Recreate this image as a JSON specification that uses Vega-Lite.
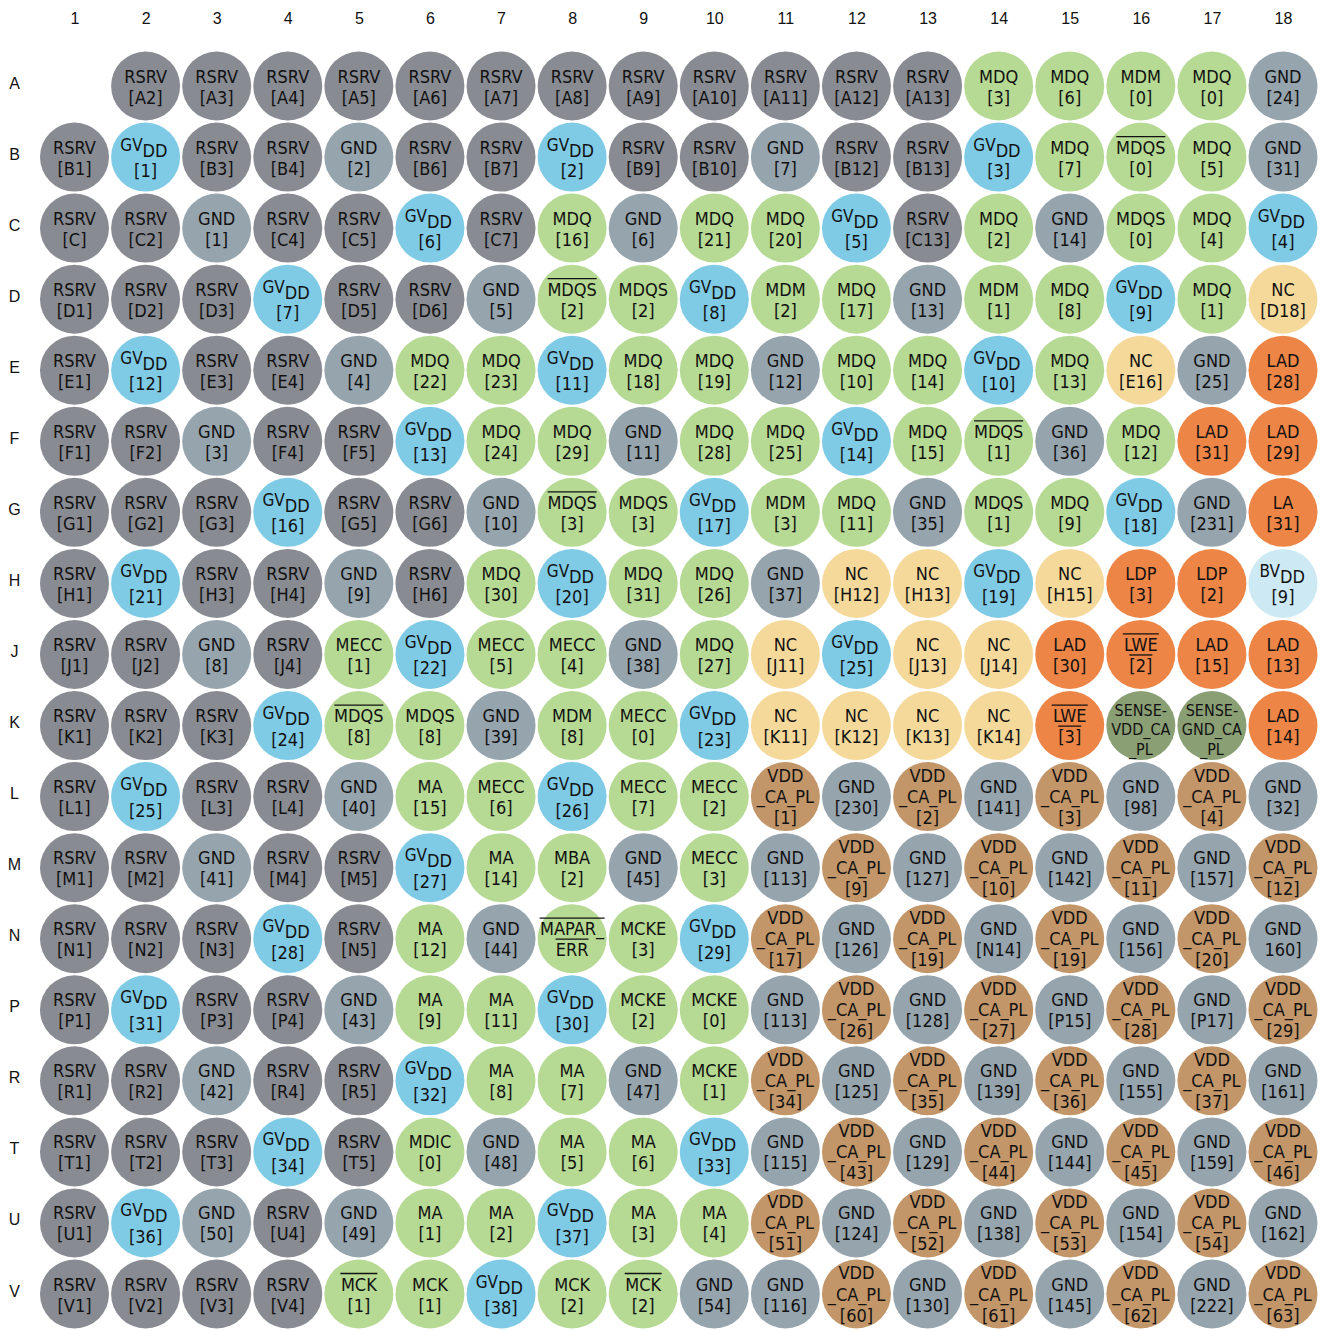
{
"$schema":"https://vega.github.io/schema/vega-lite/v6.json",
"width":1285,"height":1291,
"autosize":{"type":"none"},
"padding":{"left":40,"top":40,"right":0,"bottom":0},
"background":"white",
"config":{"view":{"stroke":null},"text":{"font":"DejaVu Sans Condensed","fontSize":18,"color":"#111111","baseline":"alphabetic","align":"center"},"tick":{"color":"#111111","opacity":1,"thickness":1.3,"orient":"horizontal"}},
"data":{"values":[
{"r":"A","c":2,"t":"R","a":"RSRV","b":"[A2]"},{"r":"A","c":3,"t":"R","a":"RSRV","b":"[A3]"},{"r":"A","c":4,"t":"R","a":"RSRV","b":"[A4]"},{"r":"A","c":5,"t":"R","a":"RSRV","b":"[A5]"},{"r":"A","c":6,"t":"R","a":"RSRV","b":"[A6]"},{"r":"A","c":7,"t":"R","a":"RSRV","b":"[A7]"},{"r":"A","c":8,"t":"R","a":"RSRV","b":"[A8]"},{"r":"A","c":9,"t":"R","a":"RSRV","b":"[A9]"},{"r":"A","c":10,"t":"R","a":"RSRV","b":"[A10]"},{"r":"A","c":11,"t":"R","a":"RSRV","b":"[A11]"},{"r":"A","c":12,"t":"R","a":"RSRV","b":"[A12]"},{"r":"A","c":13,"t":"R","a":"RSRV","b":"[A13]"},{"r":"A","c":14,"t":"M","a":"MDQ","b":"[3]"},{"r":"A","c":15,"t":"M","a":"MDQ","b":"[6]"},{"r":"A","c":16,"t":"M","a":"MDM","b":"[0]"},{"r":"A","c":17,"t":"M","a":"MDQ","b":"[0]"},{"r":"A","c":18,"t":"G","a":"GND","b":"[24]"},
{"r":"B","c":1,"t":"R","a":"RSRV","b":"[B1]"},{"r":"B","c":2,"t":"V","a":"GV","s":"DD","b":"[1]"},{"r":"B","c":3,"t":"R","a":"RSRV","b":"[B3]"},{"r":"B","c":4,"t":"R","a":"RSRV","b":"[B4]"},{"r":"B","c":5,"t":"G","a":"GND","b":"[2]"},{"r":"B","c":6,"t":"R","a":"RSRV","b":"[B6]"},{"r":"B","c":7,"t":"R","a":"RSRV","b":"[B7]"},{"r":"B","c":8,"t":"V","a":"GV","s":"DD","b":"[2]"},{"r":"B","c":9,"t":"R","a":"RSRV","b":"[B9]"},{"r":"B","c":10,"t":"R","a":"RSRV","b":"[B10]"},{"r":"B","c":11,"t":"G","a":"GND","b":"[7]"},{"r":"B","c":12,"t":"R","a":"RSRV","b":"[B12]"},{"r":"B","c":13,"t":"R","a":"RSRV","b":"[B13]"},{"r":"B","c":14,"t":"V","a":"GV","s":"DD","b":"[3]"},{"r":"B","c":15,"t":"M","a":"MDQ","b":"[7]"},{"r":"B","c":16,"t":"M","a":"MDQS","b":"[0]","ov":1},{"r":"B","c":17,"t":"M","a":"MDQ","b":"[5]"},{"r":"B","c":18,"t":"G","a":"GND","b":"[31]"},
{"r":"C","c":1,"t":"R","a":"RSRV","b":"[C]"},{"r":"C","c":2,"t":"R","a":"RSRV","b":"[C2]"},{"r":"C","c":3,"t":"G","a":"GND","b":"[1]"},{"r":"C","c":4,"t":"R","a":"RSRV","b":"[C4]"},{"r":"C","c":5,"t":"R","a":"RSRV","b":"[C5]"},{"r":"C","c":6,"t":"V","a":"GV","s":"DD","b":"[6]"},{"r":"C","c":7,"t":"R","a":"RSRV","b":"[C7]"},{"r":"C","c":8,"t":"M","a":"MDQ","b":"[16]"},{"r":"C","c":9,"t":"G","a":"GND","b":"[6]"},{"r":"C","c":10,"t":"M","a":"MDQ","b":"[21]"},{"r":"C","c":11,"t":"M","a":"MDQ","b":"[20]"},{"r":"C","c":12,"t":"V","a":"GV","s":"DD","b":"[5]"},{"r":"C","c":13,"t":"R","a":"RSRV","b":"[C13]"},{"r":"C","c":14,"t":"M","a":"MDQ","b":"[2]"},{"r":"C","c":15,"t":"G","a":"GND","b":"[14]"},{"r":"C","c":16,"t":"M","a":"MDQS","b":"[0]"},{"r":"C","c":17,"t":"M","a":"MDQ","b":"[4]"},{"r":"C","c":18,"t":"V","a":"GV","s":"DD","b":"[4]"},
{"r":"D","c":1,"t":"R","a":"RSRV","b":"[D1]"},{"r":"D","c":2,"t":"R","a":"RSRV","b":"[D2]"},{"r":"D","c":3,"t":"R","a":"RSRV","b":"[D3]"},{"r":"D","c":4,"t":"V","a":"GV","s":"DD","b":"[7]"},{"r":"D","c":5,"t":"R","a":"RSRV","b":"[D5]"},{"r":"D","c":6,"t":"R","a":"RSRV","b":"[D6]"},{"r":"D","c":7,"t":"G","a":"GND","b":"[5]"},{"r":"D","c":8,"t":"M","a":"MDQS","b":"[2]","ov":1},{"r":"D","c":9,"t":"M","a":"MDQS","b":"[2]"},{"r":"D","c":10,"t":"V","a":"GV","s":"DD","b":"[8]"},{"r":"D","c":11,"t":"M","a":"MDM","b":"[2]"},{"r":"D","c":12,"t":"M","a":"MDQ","b":"[17]"},{"r":"D","c":13,"t":"G","a":"GND","b":"[13]"},{"r":"D","c":14,"t":"M","a":"MDM","b":"[1]"},{"r":"D","c":15,"t":"M","a":"MDQ","b":"[8]"},{"r":"D","c":16,"t":"V","a":"GV","s":"DD","b":"[9]"},{"r":"D","c":17,"t":"M","a":"MDQ","b":"[1]"},{"r":"D","c":18,"t":"N","a":"NC","b":"[D18]"},
{"r":"E","c":1,"t":"R","a":"RSRV","b":"[E1]"},{"r":"E","c":2,"t":"V","a":"GV","s":"DD","b":"[12]"},{"r":"E","c":3,"t":"R","a":"RSRV","b":"[E3]"},{"r":"E","c":4,"t":"R","a":"RSRV","b":"[E4]"},{"r":"E","c":5,"t":"G","a":"GND","b":"[4]"},{"r":"E","c":6,"t":"M","a":"MDQ","b":"[22]"},{"r":"E","c":7,"t":"M","a":"MDQ","b":"[23]"},{"r":"E","c":8,"t":"V","a":"GV","s":"DD","b":"[11]"},{"r":"E","c":9,"t":"M","a":"MDQ","b":"[18]"},{"r":"E","c":10,"t":"M","a":"MDQ","b":"[19]"},{"r":"E","c":11,"t":"G","a":"GND","b":"[12]"},{"r":"E","c":12,"t":"M","a":"MDQ","b":"[10]"},{"r":"E","c":13,"t":"M","a":"MDQ","b":"[14]"},{"r":"E","c":14,"t":"V","a":"GV","s":"DD","b":"[10]"},{"r":"E","c":15,"t":"M","a":"MDQ","b":"[13]"},{"r":"E","c":16,"t":"N","a":"NC","b":"[E16]"},{"r":"E","c":17,"t":"G","a":"GND","b":"[25]"},{"r":"E","c":18,"t":"L","a":"LAD","b":"[28]"},
{"r":"F","c":1,"t":"R","a":"RSRV","b":"[F1]"},{"r":"F","c":2,"t":"R","a":"RSRV","b":"[F2]"},{"r":"F","c":3,"t":"G","a":"GND","b":"[3]"},{"r":"F","c":4,"t":"R","a":"RSRV","b":"[F4]"},{"r":"F","c":5,"t":"R","a":"RSRV","b":"[F5]"},{"r":"F","c":6,"t":"V","a":"GV","s":"DD","b":"[13]"},{"r":"F","c":7,"t":"M","a":"MDQ","b":"[24]"},{"r":"F","c":8,"t":"M","a":"MDQ","b":"[29]"},{"r":"F","c":9,"t":"G","a":"GND","b":"[11]"},{"r":"F","c":10,"t":"M","a":"MDQ","b":"[28]"},{"r":"F","c":11,"t":"M","a":"MDQ","b":"[25]"},{"r":"F","c":12,"t":"V","a":"GV","s":"DD","b":"[14]"},{"r":"F","c":13,"t":"M","a":"MDQ","b":"[15]"},{"r":"F","c":14,"t":"M","a":"MDQS","b":"[1]","ov":1},{"r":"F","c":15,"t":"G","a":"GND","b":"[36]"},{"r":"F","c":16,"t":"M","a":"MDQ","b":"[12]"},{"r":"F","c":17,"t":"L","a":"LAD","b":"[31]"},{"r":"F","c":18,"t":"L","a":"LAD","b":"[29]"},
{"r":"G","c":1,"t":"R","a":"RSRV","b":"[G1]"},{"r":"G","c":2,"t":"R","a":"RSRV","b":"[G2]"},{"r":"G","c":3,"t":"R","a":"RSRV","b":"[G3]"},{"r":"G","c":4,"t":"V","a":"GV","s":"DD","b":"[16]"},{"r":"G","c":5,"t":"R","a":"RSRV","b":"[G5]"},{"r":"G","c":6,"t":"R","a":"RSRV","b":"[G6]"},{"r":"G","c":7,"t":"G","a":"GND","b":"[10]"},{"r":"G","c":8,"t":"M","a":"MDQS","b":"[3]","ov":1},{"r":"G","c":9,"t":"M","a":"MDQS","b":"[3]"},{"r":"G","c":10,"t":"V","a":"GV","s":"DD","b":"[17]"},{"r":"G","c":11,"t":"M","a":"MDM","b":"[3]"},{"r":"G","c":12,"t":"M","a":"MDQ","b":"[11]"},{"r":"G","c":13,"t":"G","a":"GND","b":"[35]"},{"r":"G","c":14,"t":"M","a":"MDQS","b":"[1]"},{"r":"G","c":15,"t":"M","a":"MDQ","b":"[9]"},{"r":"G","c":16,"t":"V","a":"GV","s":"DD","b":"[18]"},{"r":"G","c":17,"t":"G","a":"GND","b":"[231]"},{"r":"G","c":18,"t":"L","a":"LA","b":"[31]"},
{"r":"H","c":1,"t":"R","a":"RSRV","b":"[H1]"},{"r":"H","c":2,"t":"V","a":"GV","s":"DD","b":"[21]"},{"r":"H","c":3,"t":"R","a":"RSRV","b":"[H3]"},{"r":"H","c":4,"t":"R","a":"RSRV","b":"[H4]"},{"r":"H","c":5,"t":"G","a":"GND","b":"[9]"},{"r":"H","c":6,"t":"R","a":"RSRV","b":"[H6]"},{"r":"H","c":7,"t":"M","a":"MDQ","b":"[30]"},{"r":"H","c":8,"t":"V","a":"GV","s":"DD","b":"[20]"},{"r":"H","c":9,"t":"M","a":"MDQ","b":"[31]"},{"r":"H","c":10,"t":"M","a":"MDQ","b":"[26]"},{"r":"H","c":11,"t":"G","a":"GND","b":"[37]"},{"r":"H","c":12,"t":"N","a":"NC","b":"[H12]"},{"r":"H","c":13,"t":"N","a":"NC","b":"[H13]"},{"r":"H","c":14,"t":"V","a":"GV","s":"DD","b":"[19]"},{"r":"H","c":15,"t":"N","a":"NC","b":"[H15]"},{"r":"H","c":16,"t":"L","a":"LDP","b":"[3]"},{"r":"H","c":17,"t":"L","a":"LDP","b":"[2]"},{"r":"H","c":18,"t":"B","a":"BV","s":"DD","b":"[9]"},
{"r":"J","c":1,"t":"R","a":"RSRV","b":"[J1]"},{"r":"J","c":2,"t":"R","a":"RSRV","b":"[J2]"},{"r":"J","c":3,"t":"G","a":"GND","b":"[8]"},{"r":"J","c":4,"t":"R","a":"RSRV","b":"[J4]"},{"r":"J","c":5,"t":"M","a":"MECC","b":"[1]"},{"r":"J","c":6,"t":"V","a":"GV","s":"DD","b":"[22]"},{"r":"J","c":7,"t":"M","a":"MECC","b":"[5]"},{"r":"J","c":8,"t":"M","a":"MECC","b":"[4]"},{"r":"J","c":9,"t":"G","a":"GND","b":"[38]"},{"r":"J","c":10,"t":"M","a":"MDQ","b":"[27]"},{"r":"J","c":11,"t":"N","a":"NC","b":"[J11]"},{"r":"J","c":12,"t":"V","a":"GV","s":"DD","b":"[25]"},{"r":"J","c":13,"t":"N","a":"NC","b":"[J13]"},{"r":"J","c":14,"t":"N","a":"NC","b":"[J14]"},{"r":"J","c":15,"t":"L","a":"LAD","b":"[30]"},{"r":"J","c":16,"t":"L","a":"LWE","b":"[2]","ov":1},{"r":"J","c":17,"t":"L","a":"LAD","b":"[15]"},{"r":"J","c":18,"t":"L","a":"LAD","b":"[13]"},
{"r":"K","c":1,"t":"R","a":"RSRV","b":"[K1]"},{"r":"K","c":2,"t":"R","a":"RSRV","b":"[K2]"},{"r":"K","c":3,"t":"R","a":"RSRV","b":"[K3]"},{"r":"K","c":4,"t":"V","a":"GV","s":"DD","b":"[24]"},{"r":"K","c":5,"t":"M","a":"MDQS","b":"[8]","ov":1},{"r":"K","c":6,"t":"M","a":"MDQS","b":"[8]"},{"r":"K","c":7,"t":"G","a":"GND","b":"[39]"},{"r":"K","c":8,"t":"M","a":"MDM","b":"[8]"},{"r":"K","c":9,"t":"M","a":"MECC","b":"[0]"},{"r":"K","c":10,"t":"V","a":"GV","s":"DD","b":"[23]"},{"r":"K","c":11,"t":"N","a":"NC","b":"[K11]"},{"r":"K","c":12,"t":"N","a":"NC","b":"[K12]"},{"r":"K","c":13,"t":"N","a":"NC","b":"[K13]"},{"r":"K","c":14,"t":"N","a":"NC","b":"[K14]"},{"r":"K","c":15,"t":"L","a":"LWE","b":"[3]","ov":1},{"r":"K","c":16,"t":"S","a":"SENSE-","b":"VDD_CA","d":"_PL"},{"r":"K","c":17,"t":"S","a":"SENSE-","b":"GND_CA","d":"_PL"},{"r":"K","c":18,"t":"L","a":"LAD","b":"[14]"},
{"r":"L","c":1,"t":"R","a":"RSRV","b":"[L1]"},{"r":"L","c":2,"t":"V","a":"GV","s":"DD","b":"[25]"},{"r":"L","c":3,"t":"R","a":"RSRV","b":"[L3]"},{"r":"L","c":4,"t":"R","a":"RSRV","b":"[L4]"},{"r":"L","c":5,"t":"G","a":"GND","b":"[40]"},{"r":"L","c":6,"t":"M","a":"MA","b":"[15]"},{"r":"L","c":7,"t":"M","a":"MECC","b":"[6]"},{"r":"L","c":8,"t":"V","a":"GV","s":"DD","b":"[26]"},{"r":"L","c":9,"t":"M","a":"MECC","b":"[7]"},{"r":"L","c":10,"t":"M","a":"MECC","b":"[2]"},{"r":"L","c":11,"t":"C","a":"VDD","b":"_CA_PL","d":"[1]"},{"r":"L","c":12,"t":"G","a":"GND","b":"[230]"},{"r":"L","c":13,"t":"C","a":"VDD","b":"_CA_PL","d":"[2]"},{"r":"L","c":14,"t":"G","a":"GND","b":"[141]"},{"r":"L","c":15,"t":"C","a":"VDD","b":"_CA_PL","d":"[3]"},{"r":"L","c":16,"t":"G","a":"GND","b":"[98]"},{"r":"L","c":17,"t":"C","a":"VDD","b":"_CA_PL","d":"[4]"},{"r":"L","c":18,"t":"G","a":"GND","b":"[32]"},
{"r":"M","c":1,"t":"R","a":"RSRV","b":"[M1]"},{"r":"M","c":2,"t":"R","a":"RSRV","b":"[M2]"},{"r":"M","c":3,"t":"G","a":"GND","b":"[41]"},{"r":"M","c":4,"t":"R","a":"RSRV","b":"[M4]"},{"r":"M","c":5,"t":"R","a":"RSRV","b":"[M5]"},{"r":"M","c":6,"t":"V","a":"GV","s":"DD","b":"[27]"},{"r":"M","c":7,"t":"M","a":"MA","b":"[14]"},{"r":"M","c":8,"t":"M","a":"MBA","b":"[2]"},{"r":"M","c":9,"t":"G","a":"GND","b":"[45]"},{"r":"M","c":10,"t":"M","a":"MECC","b":"[3]"},{"r":"M","c":11,"t":"G","a":"GND","b":"[113]"},{"r":"M","c":12,"t":"C","a":"VDD","b":"_CA_PL","d":"[9]"},{"r":"M","c":13,"t":"G","a":"GND","b":"[127]"},{"r":"M","c":14,"t":"C","a":"VDD","b":"_CA_PL","d":"[10]"},{"r":"M","c":15,"t":"G","a":"GND","b":"[142]"},{"r":"M","c":16,"t":"C","a":"VDD","b":"_CA_PL","d":"[11]"},{"r":"M","c":17,"t":"G","a":"GND","b":"[157]"},{"r":"M","c":18,"t":"C","a":"VDD","b":"_CA_PL","d":"[12]"},
{"r":"N","c":1,"t":"R","a":"RSRV","b":"[N1]"},{"r":"N","c":2,"t":"R","a":"RSRV","b":"[N2]"},{"r":"N","c":3,"t":"R","a":"RSRV","b":"[N3]"},{"r":"N","c":4,"t":"V","a":"GV","s":"DD","b":"[28]"},{"r":"N","c":5,"t":"R","a":"RSRV","b":"[N5]"},{"r":"N","c":6,"t":"M","a":"MA","b":"[12]"},{"r":"N","c":7,"t":"G","a":"GND","b":"[44]"},{"r":"N","c":8,"t":"M","a":"MAPAR_","b":"ERR","ov":1},{"r":"N","c":9,"t":"M","a":"MCKE","b":"[3]"},{"r":"N","c":10,"t":"V","a":"GV","s":"DD","b":"[29]"},{"r":"N","c":11,"t":"C","a":"VDD","b":"_CA_PL","d":"[17]"},{"r":"N","c":12,"t":"G","a":"GND","b":"[126]"},{"r":"N","c":13,"t":"C","a":"VDD","b":"_CA_PL","d":"[19]"},{"r":"N","c":14,"t":"G","a":"GND","b":"[N14]"},{"r":"N","c":15,"t":"C","a":"VDD","b":"_CA_PL","d":"[19]"},{"r":"N","c":16,"t":"G","a":"GND","b":"[156]"},{"r":"N","c":17,"t":"C","a":"VDD","b":"_CA_PL","d":"[20]"},{"r":"N","c":18,"t":"G","a":"GND","b":"160]"},
{"r":"P","c":1,"t":"R","a":"RSRV","b":"[P1]"},{"r":"P","c":2,"t":"V","a":"GV","s":"DD","b":"[31]"},{"r":"P","c":3,"t":"R","a":"RSRV","b":"[P3]"},{"r":"P","c":4,"t":"R","a":"RSRV","b":"[P4]"},{"r":"P","c":5,"t":"G","a":"GND","b":"[43]"},{"r":"P","c":6,"t":"M","a":"MA","b":"[9]"},{"r":"P","c":7,"t":"M","a":"MA","b":"[11]"},{"r":"P","c":8,"t":"V","a":"GV","s":"DD","b":"[30]"},{"r":"P","c":9,"t":"M","a":"MCKE","b":"[2]"},{"r":"P","c":10,"t":"M","a":"MCKE","b":"[0]"},{"r":"P","c":11,"t":"G","a":"GND","b":"[113]"},{"r":"P","c":12,"t":"C","a":"VDD","b":"_CA_PL","d":"[26]"},{"r":"P","c":13,"t":"G","a":"GND","b":"[128]"},{"r":"P","c":14,"t":"C","a":"VDD","b":"_CA_PL","d":"[27]"},{"r":"P","c":15,"t":"G","a":"GND","b":"[P15]"},{"r":"P","c":16,"t":"C","a":"VDD","b":"_CA_PL","d":"[28]"},{"r":"P","c":17,"t":"G","a":"GND","b":"[P17]"},{"r":"P","c":18,"t":"C","a":"VDD","b":"_CA_PL","d":"[29]"},
{"r":"R","c":1,"t":"R","a":"RSRV","b":"[R1]"},{"r":"R","c":2,"t":"R","a":"RSRV","b":"[R2]"},{"r":"R","c":3,"t":"G","a":"GND","b":"[42]"},{"r":"R","c":4,"t":"R","a":"RSRV","b":"[R4]"},{"r":"R","c":5,"t":"R","a":"RSRV","b":"[R5]"},{"r":"R","c":6,"t":"V","a":"GV","s":"DD","b":"[32]"},{"r":"R","c":7,"t":"M","a":"MA","b":"[8]"},{"r":"R","c":8,"t":"M","a":"MA","b":"[7]"},{"r":"R","c":9,"t":"G","a":"GND","b":"[47]"},{"r":"R","c":10,"t":"M","a":"MCKE","b":"[1]"},{"r":"R","c":11,"t":"C","a":"VDD","b":"_CA_PL","d":"[34]"},{"r":"R","c":12,"t":"G","a":"GND","b":"[125]"},{"r":"R","c":13,"t":"C","a":"VDD","b":"_CA_PL","d":"[35]"},{"r":"R","c":14,"t":"G","a":"GND","b":"[139]"},{"r":"R","c":15,"t":"C","a":"VDD","b":"_CA_PL","d":"[36]"},{"r":"R","c":16,"t":"G","a":"GND","b":"[155]"},{"r":"R","c":17,"t":"C","a":"VDD","b":"_CA_PL","d":"[37]"},{"r":"R","c":18,"t":"G","a":"GND","b":"[161]"},
{"r":"T","c":1,"t":"R","a":"RSRV","b":"[T1]"},{"r":"T","c":2,"t":"R","a":"RSRV","b":"[T2]"},{"r":"T","c":3,"t":"R","a":"RSRV","b":"[T3]"},{"r":"T","c":4,"t":"V","a":"GV","s":"DD","b":"[34]"},{"r":"T","c":5,"t":"R","a":"RSRV","b":"[T5]"},{"r":"T","c":6,"t":"M","a":"MDIC","b":"[0]"},{"r":"T","c":7,"t":"G","a":"GND","b":"[48]"},{"r":"T","c":8,"t":"M","a":"MA","b":"[5]"},{"r":"T","c":9,"t":"M","a":"MA","b":"[6]"},{"r":"T","c":10,"t":"V","a":"GV","s":"DD","b":"[33]"},{"r":"T","c":11,"t":"G","a":"GND","b":"[115]"},{"r":"T","c":12,"t":"C","a":"VDD","b":"_CA_PL","d":"[43]"},{"r":"T","c":13,"t":"G","a":"GND","b":"[129]"},{"r":"T","c":14,"t":"C","a":"VDD","b":"_CA_PL","d":"[44]"},{"r":"T","c":15,"t":"G","a":"GND","b":"[144]"},{"r":"T","c":16,"t":"C","a":"VDD","b":"_CA_PL","d":"[45]"},{"r":"T","c":17,"t":"G","a":"GND","b":"[159]"},{"r":"T","c":18,"t":"C","a":"VDD","b":"_CA_PL","d":"[46]"},
{"r":"U","c":1,"t":"R","a":"RSRV","b":"[U1]"},{"r":"U","c":2,"t":"V","a":"GV","s":"DD","b":"[36]"},{"r":"U","c":3,"t":"G","a":"GND","b":"[50]"},{"r":"U","c":4,"t":"R","a":"RSRV","b":"[U4]"},{"r":"U","c":5,"t":"G","a":"GND","b":"[49]"},{"r":"U","c":6,"t":"M","a":"MA","b":"[1]"},{"r":"U","c":7,"t":"M","a":"MA","b":"[2]"},{"r":"U","c":8,"t":"V","a":"GV","s":"DD","b":"[37]"},{"r":"U","c":9,"t":"M","a":"MA","b":"[3]"},{"r":"U","c":10,"t":"M","a":"MA","b":"[4]"},{"r":"U","c":11,"t":"C","a":"VDD","b":"_CA_PL","d":"[51]"},{"r":"U","c":12,"t":"G","a":"GND","b":"[124]"},{"r":"U","c":13,"t":"C","a":"VDD","b":"_CA_PL","d":"[52]"},{"r":"U","c":14,"t":"G","a":"GND","b":"[138]"},{"r":"U","c":15,"t":"C","a":"VDD","b":"_CA_PL","d":"[53]"},{"r":"U","c":16,"t":"G","a":"GND","b":"[154]"},{"r":"U","c":17,"t":"C","a":"VDD","b":"_CA_PL","d":"[54]"},{"r":"U","c":18,"t":"G","a":"GND","b":"[162]"},
{"r":"V","c":1,"t":"R","a":"RSRV","b":"[V1]"},{"r":"V","c":2,"t":"R","a":"RSRV","b":"[V2]"},{"r":"V","c":3,"t":"R","a":"RSRV","b":"[V3]"},{"r":"V","c":4,"t":"R","a":"RSRV","b":"[V4]"},{"r":"V","c":5,"t":"M","a":"MCK","b":"[1]","ov":1},{"r":"V","c":6,"t":"M","a":"MCK","b":"[1]"},{"r":"V","c":7,"t":"V","a":"GV","s":"DD","b":"[38]"},{"r":"V","c":8,"t":"M","a":"MCK","b":"[2]"},{"r":"V","c":9,"t":"M","a":"MCK","b":"[2]","ov":1},{"r":"V","c":10,"t":"G","a":"GND","b":"[54]"},{"r":"V","c":11,"t":"G","a":"GND","b":"[116]"},{"r":"V","c":12,"t":"C","a":"VDD","b":"_CA_PL","d":"[60]"},{"r":"V","c":13,"t":"G","a":"GND","b":"[130]"},{"r":"V","c":14,"t":"C","a":"VDD","b":"_CA_PL","d":"[61]"},{"r":"V","c":15,"t":"G","a":"GND","b":"[145]"},{"r":"V","c":16,"t":"C","a":"VDD","b":"_CA_PL","d":"[62]"},{"r":"V","c":17,"t":"G","a":"GND","b":"[222]"},{"r":"V","c":18,"t":"C","a":"VDD","b":"_CA_PL","d":"[63]"}
]},
"encoding":{
"x":{"field":"c","type":"quantitative","scale":{"type":"linear","domain":[1,18],"range":[34.5,1243],"nice":false,"zero":false},
 "axis":{"orient":"top","title":null,"values":[1,2,3,4,5,6,7,8,9,10,11,12,13,14,15,16,17,18],"format":"d","domain":false,"ticks":false,"tickSize":0,"grid":false,"labelPadding":22,"labelBaseline":"middle","labelFont":"Liberation Sans, sans-serif","labelFontSize":16,"labelColor":"#111111","labelFlush":false,"labelOverlap":false}},
"y":{"field":"r","type":"ordinal","scale":{"type":"point","domain":["A","B","C","D","E","F","G","H","J","K","L","M","N","P","R","T","U","V"],"range":[46,1254],"padding":0},
 "axis":{"orient":"left","title":null,"domain":false,"ticks":false,"tickSize":0,"grid":false,"labelPadding":26,"labelOffset":-3,"labelAlign":"center","labelBaseline":"middle","labelFont":"Liberation Sans, sans-serif","labelFontSize":16,"labelColor":"#111111"}}
},
"layer":[
{"mark":{"type":"circle","size":4761,"opacity":1,"stroke":null},
 "encoding":{"color":{"field":"t","type":"nominal","legend":null,"scale":{"domain":["R","G","V","M","N","L","C","S","B"],"range":["#888b92","#96a4ae","#7fcbe6","#b6da93","#f4d99b","#ed8546","#c29669","#8b9f74","#cdeaf4"]}}}},
{"transform":[{"filter":"!datum.s && !datum.d"}],"mark":{"type":"text","dy":-3.5},"encoding":{"text":{"field":"a"}}},
{"transform":[{"filter":"!datum.s && !datum.d"}],"mark":{"type":"text","dy":17.5},"encoding":{"text":{"field":"b"}}},
{"transform":[{"filter":"datum.s"}],"mark":{"type":"text","dy":-6.5,"dx":-3,"align":"right","fontSize":17},"encoding":{"text":{"field":"a"}}},
{"transform":[{"filter":"datum.s"}],"mark":{"type":"text","dy":-0.5,"dx":-3,"align":"left","fontSize":18},"encoding":{"text":{"field":"s"}}},
{"transform":[{"filter":"datum.s"}],"mark":{"type":"text","dy":20},"encoding":{"text":{"field":"b"}}},
{"transform":[{"filter":"datum.t == 'C'"}],"mark":{"type":"text","dy":-15},"encoding":{"text":{"field":"a"}}},
{"transform":[{"filter":"datum.t == 'C'"}],"mark":{"type":"text","dy":6.5},"encoding":{"text":{"field":"b"}}},
{"transform":[{"filter":"datum.t == 'C'"}],"mark":{"type":"text","dy":27.5},"encoding":{"text":{"field":"d"}}},
{"transform":[{"filter":"datum.t == 'S'"}],"mark":{"type":"text","dy":-10,"fontSize":16},"encoding":{"text":{"field":"a"}}},
{"transform":[{"filter":"datum.t == 'S'"}],"mark":{"type":"text","dy":9.5,"fontSize":16},"encoding":{"text":{"field":"b"}}},
{"transform":[{"filter":"datum.t == 'S'"}],"mark":{"type":"text","dy":29,"fontSize":16},"encoding":{"text":{"field":"d"}}},
{"transform":[{"filter":"datum.ov && datum.a == 'MDQS'"}],"mark":{"type":"tick","orient":"horizontal","size":49,"thickness":1.3,"yOffset":-20.5,"color":"#111111","opacity":1},"encoding":{}},
{"transform":[{"filter":"datum.ov && datum.a == 'MCK'"}],"mark":{"type":"tick","orient":"horizontal","size":37,"thickness":1.3,"yOffset":-20.5,"color":"#111111","opacity":1},"encoding":{}},
{"transform":[{"filter":"datum.ov && datum.a == 'LWE'"}],"mark":{"type":"tick","orient":"horizontal","size":36,"thickness":1.3,"yOffset":-20.5,"color":"#111111","opacity":1},"encoding":{}},
{"transform":[{"filter":"datum.ov && datum.a == 'LWE'"}],"mark":{"type":"tick","orient":"horizontal","size":23,"thickness":1.3,"yOffset":0.5,"color":"#111111","opacity":1},"encoding":{}},
{"transform":[{"filter":"datum.ov && datum.a == 'MAPAR_'"}],"mark":{"type":"tick","orient":"horizontal","size":65,"thickness":1.3,"yOffset":-20.5,"color":"#111111","opacity":1},"encoding":{}},
{"transform":[{"filter":"datum.ov && datum.a == 'MAPAR_'"}],"mark":{"type":"tick","orient":"horizontal","size":33,"thickness":1.3,"yOffset":0.5,"color":"#111111","opacity":1},"encoding":{}}
]
}
